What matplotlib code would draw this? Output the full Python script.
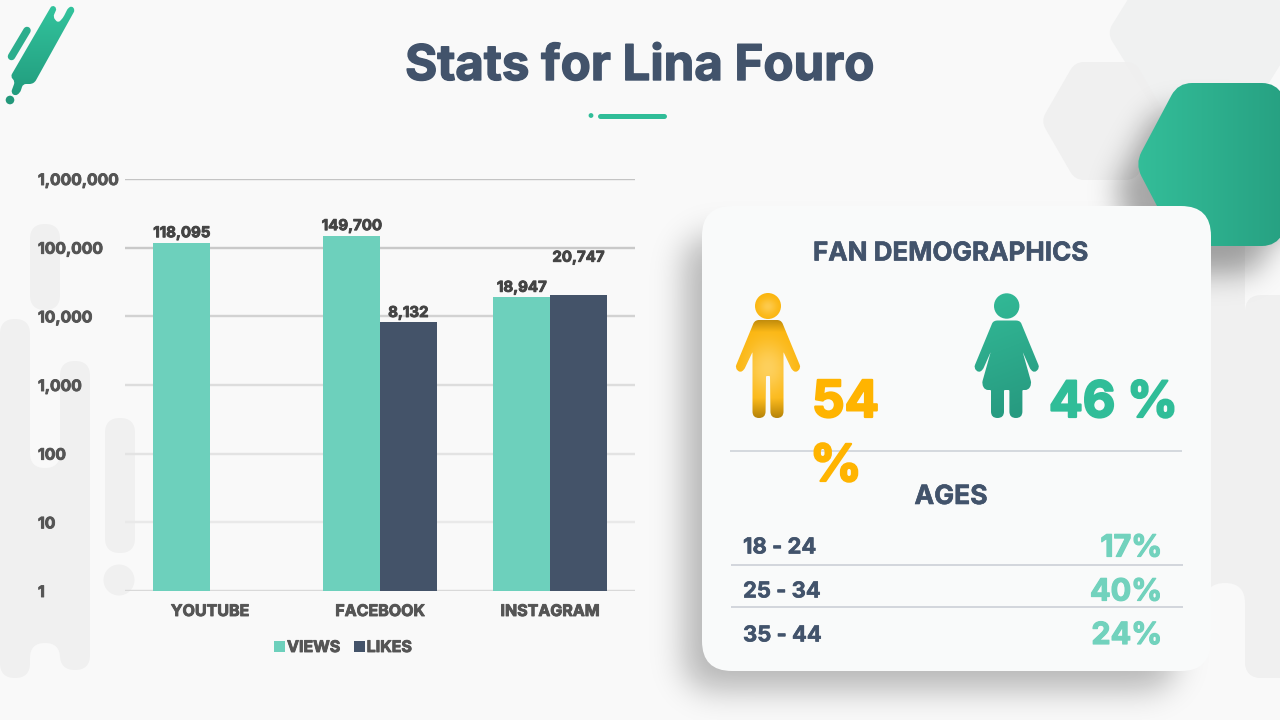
import numpy as np
import matplotlib
matplotlib.use("Agg")
import matplotlib.pyplot as plt
import matplotlib.patheffects as pe
from matplotlib.backends.backend_agg import FigureCanvasAgg
from matplotlib.figure import Figure
from matplotlib.path import Path
from matplotlib.patches import PathPatch, FancyBboxPatch, Circle, Rectangle
from matplotlib.ticker import FixedLocator, FixedFormatter

# ---------- data ----------
categories = ["YOUTUBE", "FACEBOOK", "INSTAGRAM"]
views = [118095, 149700, 18947]
likes = [None, 8132, 20747]
y_ticks = [1, 10, 100, 1000, 10000, 100000, 1000000]
y_labels = ["1", "10", "100", "1,000", "10,000", "100,000", "1,000,000"]
age_groups = ["18 - 24", "25 - 34", "35 - 44"]
age_shares = ["17%", "40%", "24%"]

# ---------- style ----------
FONT = "Inter"
BG = "#f9f9f9"
SHAPE = "#f0f0f0"
NAVY = "#42536b"
TEAL = "#6dd0bc"
BAR_NAVY = "#445369"
GREEN = "#30bd98"
AMBER = "#ffb400"
PX = 0.72
plt.rcParams["font.family"] = [FONT, "DejaVu Sans"]

fig = plt.figure(figsize=(12.8, 7.2), dpi=100, facecolor=BG)
bg = fig.add_axes([0, 0, 1, 1], zorder=0)
bg.set_xlim(0, 1280)
bg.set_ylim(720, 0)
bg.axis("off")


def thick(color, px):
    return [pe.withStroke(linewidth=px * PX, foreground=color)]


def rounded_poly(pts, r):
    pts = [np.array(p, float) for p in pts]
    n = len(pts)
    rs = r if isinstance(r, (list, tuple)) else [r] * n
    verts, codes = [], []
    for i in range(n):
        v, a, b = pts[i], pts[i - 1], pts[(i + 1) % n]
        d1, d2 = a - v, b - v
        l1, l2 = np.hypot(*d1), np.hypot(*d2)
        rad = min(rs[i], l1 / 2, l2 / 2)
        p1, p2 = v + d1 / l1 * rad, v + d2 / l2 * rad
        verts.append(p1)
        codes.append(Path.MOVETO if i == 0 else Path.LINETO)
        verts += [v, p2]
        codes += [Path.CURVE3, Path.CURVE3]
    verts.append(verts[0])
    codes.append(Path.CLOSEPOLY)
    return Path(np.array(verts), codes)


def circle_path(cx, cy, r):
    c = Path.unit_circle()
    return Path(c.vertices * r + [cx, cy], c.codes)


def capsule(x0, x1, y0, y1, color=SHAPE, z=1):
    r = (x1 - x0) / 2
    bg.add_patch(FancyBboxPatch((x0 + r, y0 + r), 0, y1 - y0 - 2 * r,
                                boxstyle=f"round,pad={r},rounding_size={r}",
                                fc=color, ec="none", zorder=z))


def soft_shadow(path, sigma, strength, z):
    f = Figure(figsize=(12.8, 7.2), dpi=100, facecolor="white")
    c = FigureCanvasAgg(f)
    a = f.add_axes([0, 0, 1, 1])
    a.set_xlim(0, 1280)
    a.set_ylim(720, 0)
    a.axis("off")
    a.add_patch(PathPatch(path, fc="black", ec="none"))
    c.draw()
    mask = 1 - np.asarray(c.buffer_rgba())[..., 0] / 255.0
    pad = int(4 * sigma)
    m = np.pad(mask, pad, mode="edge")
    fy = np.fft.fftfreq(m.shape[0])[:, None]
    fx = np.fft.rfftfreq(m.shape[1])[None, :]
    kernel = np.exp(-2 * np.pi ** 2 * sigma ** 2 * (fx ** 2 + fy ** 2))
    blurred = np.fft.irfft2(np.fft.rfft2(m) * kernel, s=m.shape)[pad:-pad, pad:-pad]
    rgba = np.zeros(blurred.shape + (4,))
    rgba[..., 3] = np.clip(blurred, 0, 1) * strength
    bg.imshow(rgba, extent=(0, 1280, 720, 0), aspect="auto", interpolation="nearest", zorder=z)
    bg.set_xlim(0, 1280)
    bg.set_ylim(720, 0)


def gradient(path, extent, rgb, z):
    im = bg.imshow(rgb, extent=extent, aspect="auto", origin="upper",
                   interpolation="bilinear", zorder=z)
    im.set_clip_path(PathPatch(path, transform=bg.transData))
    bg.set_xlim(0, 1280)
    bg.set_ylim(720, 0)


def ramp(c0, c1, h=60, w=80, angle=(1.0, 0.0)):
    yy, xx = np.mgrid[0:1:h * 1j, 0:1:w * 1j]
    t = np.clip(xx * angle[0] + yy * angle[1], 0, 1)[..., None]
    to_rgb = matplotlib.colors.to_rgb
    return np.array(to_rgb(c0)) * (1 - t) + np.array(to_rgb(c1)) * t


# ---------- background: left shapes ----------
capsule(0, 30, 319, 678)
capsule(60, 90, 361, 670)
bg.add_patch(Rectangle((30, 440), 30, 230, fc=SHAPE, ec="none", zorder=1))
capsule(30, 60, 400, 468, color=BG, z=1.1)
capsule(30, 60, 643, 720, color=BG, z=1.1)
capsule(30, 60, 224, 310)
capsule(105, 135, 418, 553)
bg.add_patch(Circle((119, 580), 15.5, fc=SHAPE, ec="none", zorder=1))

# ---------- background: right shapes ----------
hex_big = rounded_poly([(1107, 33), (1158, 115), (1249, 115), (1300, 33), (1249, -49), (1158, -49)], 10)
bg.add_patch(PathPatch(hex_big, fc="#f0f1f1", ec="none", zorder=1))
hex_mid = rounded_poly([(1041, 121), (1075, 62), (1135, 62), (1169, 121), (1135, 180), (1075, 180)], 9)
bg.add_patch(PathPatch(hex_mid, fc="#efefef", ec="none", alpha=0.9, zorder=1.2))
bg.add_patch(Rectangle((1205, 246), 40, 370, fc=SHAPE, ec="none", zorder=1))
bg.add_patch(FancyBboxPatch((1245, 295), 60, 383, boxstyle="round,pad=0,rounding_size=17",
                            fc=SHAPE, ec="none", zorder=1))
bg.add_patch(Rectangle((1280, 280), 30, 420, fc=BG, ec="none", zorder=1.05))
capsule(1245, 1280, 560, 678)
bg.add_patch(Rectangle((1245, 320), 35, 320, fc=SHAPE, ec="none", zorder=1))
capsule(1205, 1245, 583, 760, color=BG, z=1.1)

# ---------- green hexagon ----------
hex_pts = [(1135, 164), (1178, 83), (1276, 83), (1322, 164), (1276, 246), (1178, 246)]
green_hex = rounded_poly(hex_pts, 14)
soft_shadow(rounded_poly([(x - 22, y + 28) for x, y in hex_pts], 14), 14, 0.34, 1.5)
gradient(green_hex, (1130, 1285, 250, 80), ramp("#34bf9a", "#27a182"), 2)

# ---------- card ----------
soft_shadow(rounded_poly([(684, 236), (1175, 236), (1175, 690), (684, 690)], 30), 16, 0.27, 2.5)
bg.add_patch(FancyBboxPatch((702, 206), 509, 465, boxstyle="round,pad=0,rounding_size=30",
                            fc="#f9fafa", ec="none", zorder=3))

# ---------- logo ----------
logo_pts = [(52, 5), (57, 8), (53, 17), (58, 23), (63, 18), (68, 8), (72, 6), (75, 10),
            (35, 82), (31.5, 84), (23, 84), (20, 93), (15, 96), (11, 92.5), (15, 81.5), (10.5, 76.5)]
logo = rounded_poly(logo_pts, 3)
gradient(logo, (5, 80, 100, 2), ramp("#33c59e", "#219a7c", angle=(0, 1)), 2)
bg.plot([27, 11.5], [30.5, 56.5], color="#2cae8d", lw=7.5 * PX, solid_capstyle="round", zorder=2)
bg.add_patch(Circle((10, 100), 4.3, fc="#23987b", ec="none", zorder=2))

# ---------- title ----------
bg.text(640, 80, "Stats for Lina Fouro", ha="center", va="baseline", fontsize=49.2 * PX,
        fontweight="bold", color=NAVY, zorder=5, path_effects=thick(NAVY, 1.4))
bg.add_patch(Circle((591, 115.5), 2.4, fc=GREEN, ec="none", zorder=5))
bg.plot([600, 664], [115.5, 115.5], color=GREEN, lw=5 * PX, solid_capstyle="round", zorder=5)

# ---------- card text ----------
bg.text(951, 260.5, "FAN DEMOGRAPHICS", ha="center", va="baseline", fontsize=26 * PX,
        fontweight="bold", color=NAVY, zorder=5, path_effects=thick(NAVY, 0.6))
bg.text(812, 417, "54", ha="left", va="baseline", fontsize=51 * PX, fontweight="bold", color=AMBER,
        zorder=5, path_effects=thick(AMBER, 2.2))
bg.text(810, 481, "%", ha="left", va="baseline", fontsize=51 * PX, fontweight="bold", color=AMBER,
        zorder=5, path_effects=thick(AMBER, 2.2))
bg.text(1049, 417, "46 %", ha="left", va="baseline", fontsize=50 * PX, fontweight="bold", color=GREEN,
        zorder=5, path_effects=thick(GREEN, 2.2))
bg.plot([731, 1181], [451, 451], color="#d5d9de", lw=2 * PX, zorder=4)
bg.text(951, 504, "AGES", ha="center", va="baseline", fontsize=26.5 * PX, fontweight="bold", color=NAVY,
        zorder=5, path_effects=thick(NAVY, 0.6))

row_base = [553.5, 597.5, 641.5]
share_base = [556.5, 600.5, 644]
for name, share, y, ys in zip(age_groups, age_shares, row_base, share_base):
    bg.text(743, y, name, ha="left", va="baseline", fontsize=22 * PX, fontweight="bold", color=NAVY,
            zorder=5, path_effects=thick(NAVY, 0.6))
    bg.text(1162, ys, share, ha="right", va="baseline", fontsize=30.5 * PX, fontweight="bold", color="#72d2bd",
            zorder=5, path_effects=thick("#72d2bd", 1.2))
for y in (564.5, 607):
    bg.plot([732, 1182], [y, y], color="#d3d6dc", lw=2 * PX, zorder=4)

# ---------- people ----------
cx = 768
half = [(11, 320), (14, 322), (33, 368), (28, 372.5), (24, 370), (15.5, 352), (15.5, 418), (2.5, 418), (2, 376)]
right = [(cx + dx, y) for dx, y in half]
left = [(cx - dx, y) for dx, y in half[::-1]]
male_body = rounded_poly(right + left, [3, 3, 4, 3, 3, 1, 6.5, 6.5, 1] + [1, 6.5, 6.5, 1, 3, 3, 4, 3, 3])
male = Path.make_compound_path(male_body, circle_path(cx, 306, 13))
yy, xx = np.mgrid[290:420:130j, 730:806:76j]
glow = np.exp(-(((xx - cx) / 22) ** 2 + ((yy - 368) / 28) ** 2))
glow2 = np.exp(-(((xx - cx) / 9) ** 2 + ((yy - 306) / 8) ** 2))
dark = np.clip((332 - yy) / 14, 0, 1) * (yy > 319) + np.clip((yy - 398) / 20, 0, 1)
rgb = np.array(matplotlib.colors.to_rgb("#fbb40a")) * np.ones(xx.shape + (3,))
rgb = rgb * (1 - (0.28 * dark)[..., None])
mix = np.clip(0.7 * glow + 0.55 * glow2, 0, 1)[..., None]
rgb = rgb * (1 - mix) + np.array(matplotlib.colors.to_rgb("#ffdc80")) * mix
gradient(male, (730, 806, 420, 290), rgb, 5)

cx = 1006.7
half = [(11, 320.5), (14, 322), (33, 368), (28, 372.5), (24, 370), (16, 352), (25, 384), (21.5, 390),
        (15.7, 390), (15.7, 418), (2.7, 418), (2.7, 390)]
right = [(cx + dx, y) for dx, y in half]
left = [(cx - dx, y) for dx, y in half[::-1]]
rad = [3, 3, 4, 3, 3, 1, 4, 3, 1, 6.5, 6.5, 1]
female_body = rounded_poly(right + left, rad + rad[::-1])
female = Path.make_compound_path(female_body, circle_path(cx, 306, 12.7))
gradient(female, (970, 1045, 420, 290), ramp("#33bc98", "#279a80", angle=(0.2, 0.9)), 5)

# ---------- chart ----------
W, H = 1280, 720
ax = fig.add_axes([125 / W, 1 - 591 / H, (635 - 125) / W, (591 - 179) / H], zorder=2)
ax.patch.set_visible(False)
ax.set_yscale("log")
ax.set_ylim(1, 1000000)
ax.set_xlim(-0.5, 2.5)
for s in ax.spines.values():
    s.set_visible(False)

x = np.arange(len(categories))
bw = 1 / 3
views_bars = ax.bar(x - bw / 2, views, bw, color=TEAL, zorder=3, label="VIEWS")
lx = [xi + bw / 2 for xi, v in zip(x, likes) if v is not None]
lv = [v for v in likes if v is not None]
likes_bars = ax.bar(lx, lv, bw, color=BAR_NAVY, zorder=3, label="LIKES")

AX_TEXT = "#555555"
ax.yaxis.set_major_locator(FixedLocator(y_ticks))
ax.yaxis.set_major_formatter(FixedFormatter(y_labels))
ax.yaxis.set_minor_locator(FixedLocator([]))
ax.tick_params(axis="y", length=0, pad=(125 - 38) * PX, labelsize=15.7 * PX, labelcolor=AX_TEXT)
for t in ax.get_yticklabels():
    t.set_ha("left")
    t.set_fontweight("bold")
    t.set_path_effects(thick(AX_TEXT, 0.9))
ax.grid(axis="y", lw=2.4 * PX, zorder=1)
grid_colors = ["#d9d9d9", "#e9e9e9", "#e3e3e3", "#dddddd", "#d2d2d2", "#c9c9c9", "#c4c4c4"]
for ln, c in zip(ax.yaxis.get_gridlines(), grid_colors):
    ln.set_color(c)

ax.set_xticks(x)
ax.set_xticklabels(categories, fontsize=16 * PX, fontweight="bold", color=AX_TEXT)
ax.tick_params(axis="x", length=0, pad=13 * PX)
for t in ax.get_xticklabels():
    t.set_path_effects(thick(AX_TEXT, 0.9))

LABEL = "#444444"
for b, v in zip(views_bars, views):
    ax.annotate(f"{v:,}", (b.get_x() + b.get_width() / 2, v), xytext=(0, 1.8), textcoords="offset points",
                ha="center", va="bottom", fontsize=15 * PX, fontweight="bold", color=LABEL, zorder=5,
                path_effects=thick(LABEL, 0.9))
label_offsets = [1.8, 21.5]
for b, v, off in zip(likes_bars, lv, label_offsets):
    ax.annotate(f"{v:,}", (b.get_x() + b.get_width() / 2, v), xytext=(0, off), textcoords="offset points",
                ha="center", va="bottom", fontsize=15 * PX, fontweight="bold", color=LABEL, zorder=5,
                path_effects=thick(LABEL, 0.9))

leg = fig.legend(handles=[views_bars, likes_bars], loc="center", bbox_to_anchor=(343 / W, 1 - 647.5 / H),
                 ncol=2, frameon=False, handlelength=0.68, handleheight=0.68, handletextpad=0.12,
                 columnspacing=0.85, prop={"size": 16 * PX, "weight": "bold"}, labelcolor=AX_TEXT)
for t in leg.get_texts():
    t.set_path_effects(thick(AX_TEXT, 0.9))

fig.savefig("out.png", dpi=100, facecolor=BG)
